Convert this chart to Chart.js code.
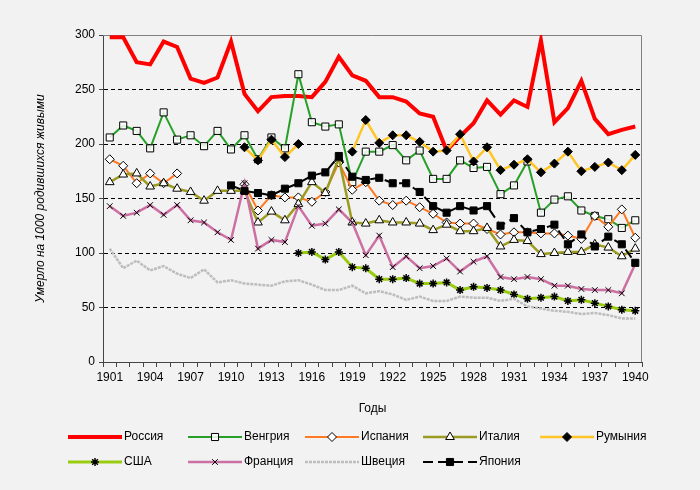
<!DOCTYPE html>
<html>
<head>
<meta charset="utf-8">
<script src="https://cdn.jsdelivr.net/npm/chart.js@4/dist/chart.umd.min.js"></script>
<style>
  html, body { margin: 0; background: #f2f2f2; }
  #wrap { width: 700px; height: 490px; position: relative; }
</style>
</head>
<body>
<div id="wrap"><canvas id="grafico"></canvas></div>
<script>
const anos = ['1901','1902','1903','1904','1905','1906','1907','1908','1909','1910',
              '1911','1912','1913','1914','1915','1916','1917','1918','1919','1920',
              '1921','1922','1923','1924','1925','1926','1927','1928','1929','1930',
              '1931','1932','1933','1934','1935','1936','1937','1938','1939','1940'];
const anosVisiveis = ['1901','1904','1907','1910','1913','1916','1919','1922','1925','1928','1931','1934','1937','1940'];
const ticksY = [0, 50, 100, 150, 200, 250, 300];

const rossiya = [298,298,275,273,294,289,260,256,261,294, 246,230,243,244,244,243,257,280,263,258,
                 243,243,239,228,225,194,207,219,240,227, 240,234,295,220,233,258,223,209,213,216];
const vengriya = [206,217,212,196,229,204,208,198,212,195, 208,186,206,196,264,220,216,218,165,193,
                  193,199,185,194,168,168,185,178,179,154, 162,184,137,149,152,139,134,131,123,130];
const ispaniya = [186,180,164,173,164,173,null,null,null,null, 163,139,153,151,151,147,156,183,158,165,
                  148,144,148,142,136,128,127,127,122,117, 119,119,118,118,116,113,134,124,140,114];
const italiya = [165,172,173,161,164,159,156,148,157,157, 157,128,138,130,145,165,155,187,128,127,
                 130,128,128,127,121,126,120,120,123,106, 112,111,99,100,101,101,108,105,97,104];
const rumyniya = [null,null,null,null,null,null,null,null,null,null, 197,185,204,188,200,null,null,null,193,222,
                  201,208,208,202,193,194,209,184,197,176, 181,186,174,182,193,175,179,183,176,190];
const ssha = [null,null,null,null,null,null,null,null,null,null, null,null,null,null,100,101,94,101,87,86,
              76,76,77,72,72,73,66,69,68,66, 62,58,59,60,56,57,54,51,48,47];
const frantsiya = [143,134,137,144,135,144,130,128,119,112, 164,104,112,110,143,125,127,140,128,98,
                   116,87,97,86,88,95,83,92,97,78, 76,78,76,70,70,67,66,66,63,90];
const shvetsiya = [104,86,93,84,88,81,77,85,73,75, 72,71,70,74,75,71,66,66,70,63,
                   65,62,57,60,56,56,60,59,59,56, 58,51,49,47,46,44,45,43,40,40];
const yaponiya = [null,null,null,null,null,null,null,null,null,162, 157,155,153,159,164,171,174,189,170,167,
                  169,164,164,156,143,137,143,139,143,125, 132,119,122,126,108,117,106,115,108,91];

const fonte = '"Liberation Sans", Arial, sans-serif';

function serie(label, data, cor, largura, ponto, extra) {
  return Object.assign({
    label: label,
    data: data,
    borderColor: cor,
    backgroundColor: cor,
    borderWidth: largura,
    tension: 0,
    spanGaps: false,
    pointStyle: ponto || false,
    pointRadius: ponto ? 4.5 : 0,
    pointHoverRadius: ponto ? 4.5 : 0,
    pointBorderColor: '#000',
    pointBackgroundColor: '#fff',
    pointBorderWidth: 1
  }, extra || {});
}

const datasets = [
  serie('Россия', rossiya, '#ff0000', 4, null, { order: 9 }),
  serie('Венгрия', vengriya, '#26a026', 2, 'rect', { order: 8, pointRadius: 5, pointHoverRadius: 5, pointBackgroundColor: 'rgba(255,255,255,0.85)' }),
  serie('Испания', ispaniya, '#ff7a22', 2, 'rectRot', { order: 7 }),
  serie('Италия', italiya, '#9c9c24', 2.5, 'triangle', { order: 6, pointRadius: 5, pointHoverRadius: 5 }),
  serie('Румыния', rumyniya, '#ffc526', 2.5, 'rectRot', { order: 5, pointBackgroundColor: '#000' }),
  serie('США', ssha, '#99cc10', 3, 'star', { order: 4, pointRadius: 4, pointBorderWidth: 1.5 }),
  serie('Франция', frantsiya, '#cc6fa3', 2.5, 'crossRot', { order: 3, pointRadius: 4 }),
  serie('Швеция', shvetsiya, '#bdbdbd', 2.5, null, { order: 2, borderDash: [3, 1] }),
  serie('Япония', yaponiya, '#000000', 2, 'rect', { order: 1, pointRadius: 5, pointHoverRadius: 5, pointBackgroundColor: '#000', borderDash: [10, 5] })
];

// contorno cinza do plot (topo e direita)
const contorno = {
  id: 'contorno',
  beforeDatasetsDraw(chart) {
    const { ctx, chartArea: a } = chart;
    ctx.save();
    ctx.strokeStyle = '#808080';
    ctx.lineWidth = 1;
    ctx.beginPath();
    ctx.moveTo(a.left, a.top + 0.5);
    ctx.lineTo(a.right - 0.5, a.top + 0.5);
    ctx.lineTo(a.right - 0.5, a.bottom);
    ctx.stroke();
    ctx.restore();
  }
};

// legenda em grade de 5 colunas
const colunasLegenda = [68, 188, 305, 423, 540];
const legenda = {
  id: 'legenda',
  afterDraw(chart) {
    const ctx = chart.ctx;
    chart.data.datasets.forEach((ds, i) => {
      const x = colunasLegenda[i % 5];
      const y = i < 5 ? 437 : 462;
      ctx.save();
      ctx.strokeStyle = ds.borderColor;
      ctx.lineWidth = ds.borderWidth;
      ctx.setLineDash(ds.borderDash || []);
      ctx.beginPath();
      ctx.moveTo(x, y);
      ctx.lineTo(x + 54, y);
      ctx.stroke();
      ctx.setLineDash([]);
      if (ds.pointStyle) {
        ctx.fillStyle = ds.pointBackgroundColor;
        ctx.strokeStyle = ds.pointBorderColor;
        ctx.lineWidth = ds.pointBorderWidth;
        Chart.helpers.drawPoint(ctx, { pointStyle: ds.pointStyle, radius: ds.pointRadius, rotation: 0, borderWidth: ds.pointBorderWidth }, x + 27, y);
      }
      ctx.fillStyle = '#000';
      ctx.font = '12px ' + fonte;
      ctx.textBaseline = 'middle';
      ctx.textAlign = 'left';
      ctx.fillText(ds.label, x + 56, y);
      ctx.restore();
    });
  }
};

const config = {
  type: 'line',
  data: { labels: anos, datasets: datasets },
  options: {
    responsive: true,
    maintainAspectRatio: false,
    animation: false,
    layout: { padding: { left: 0, top: 35, right: 58, bottom: 70 } },
    plugins: { legend: { display: false }, tooltip: { enabled: false } },
    scales: {
      x: {
        offset: true,
        grid: { offset: true, drawOnChartArea: false, drawTicks: true, tickLength: 5, tickColor: '#444', color: '#444' },
        border: { color: '#444', width: 1 },
        ticks: {
          autoSkip: false, maxRotation: 0, minRotation: 0, padding: 3, color: '#000',
          font: { family: fonte, size: 12 },
          callback: function (v, i) { return anosVisiveis.includes(anos[i]) ? anos[i] : ''; }
        },
        title: { display: true, text: 'Годы', color: '#000', font: { family: fonte, size: 12 }, padding: { top: 4, bottom: 4 } },
        afterFit: (s) => { s.height = 58; }
      },
      y: {
        min: 0,
        max: 300,
        afterBuildTicks: (s) => { s.ticks = ticksY.map(v => ({ value: v })); },
        grid: {
          color: (c) => (c.tick && (c.tick.value === 0 || c.tick.value === 300)) ? 'rgba(0,0,0,0)' : '#000',
          tickColor: '#444', tickLength: 4, lineWidth: 1
        },
        border: { color: '#444', width: 1, dash: [4, 3] },
        ticks: { padding: 4, color: '#000', font: { family: fonte, size: 12 } },
        title: {
          display: true, text: 'Умерло на 1000 родившихся живыми', color: '#000',
          font: { family: fonte, size: 12, style: 'italic' }, padding: { top: 33, bottom: 0 }
        },
        afterFit: (s) => { s.width = 103; }
      }
    }
  },
  plugins: [contorno, legenda]
};

const ctx = document.getElementById('grafico').getContext('2d');
new Chart(ctx, config);
</script>
</body>
</html>
